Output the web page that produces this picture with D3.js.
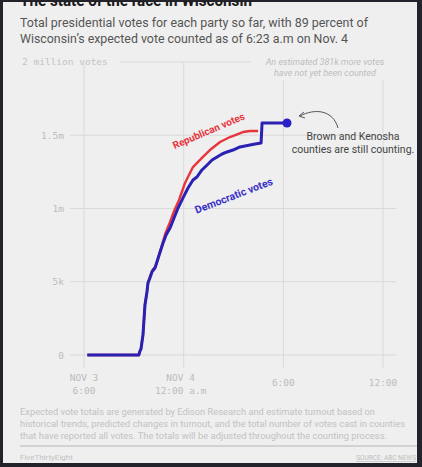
<!DOCTYPE html>
<html>
<head>
<meta charset="utf-8">
<script src="https://cdn.jsdelivr.net/npm/d3@7"></script>
<style>
html,body{margin:0;padding:0;background:#23232b;}
svg{display:block;}
</style>
</head>
<body>
<svg id="chart" width="422" height="467"></svg>
<script>
// ---- data (hours after Nov 3, 6:00 p.m.; votes in millions) ----
const demHours = [0.2, 3.3, 3.37, 3.43, 3.55, 3.61, 3.67, 3.79, 3.85, 3.97, 4.09, 4.27, 4.39, 4.58, 4.76, 4.94, 5.18, 5.42, 5.66, 5.96, 6.26, 6.56, 6.8, 7.1, 7.41, 7.71, 8.01, 8.31, 8.61, 8.97, 9.39, 9.69, 9.99, 10.3, 10.66, 10.72, 12.22];
const demVotes = [0, 0, 0.027, 0.041, 0.137, 0.239, 0.341, 0.43, 0.491, 0.526, 0.567, 0.594, 0.635, 0.703, 0.765, 0.819, 0.867, 0.935, 1.003, 1.072, 1.14, 1.195, 1.215, 1.263, 1.297, 1.331, 1.352, 1.372, 1.386, 1.399, 1.42, 1.427, 1.433, 1.44, 1.447, 1.584, 1.584];
const repHours = [0.2, 3.3, 3.37, 3.43, 3.55, 3.61, 3.67, 3.79, 3.85, 4.0, 4.15, 4.3, 4.58, 4.9, 5.15, 5.45, 5.72, 6.08, 6.56, 7.1, 7.58, 8.19, 8.79, 9.57, 9.99, 10.48];
const repVotes = [0, 0, 0.027, 0.041, 0.137, 0.239, 0.341, 0.43, 0.491, 0.545, 0.585, 0.6, 0.705, 0.83, 0.9, 0.99, 1.058, 1.174, 1.283, 1.345, 1.399, 1.454, 1.488, 1.522, 1.529, 1.529];

const yTicks = [0, 0.5, 1, 1.5];
const yTickLabels = ["0", "5k", "1m", "1.5m"];
const yTopTick = 2;
const yTopLabel = "2 million votes";

const xTickHours = [0, 6, 12, 18];
const xTickLine1 = ["NOV 3", "NOV 4", "", ""];
const xTickLine2 = ["6:00", "12:00 a.m", "", ""];
const xTickSingle = ["", "", "6:00", "12:00"];

const titleText = "The state of the race in Wisconsin";
const subtitleLines = [
  "Total presidential votes for each party so far, with 89 percent of",
  "Wisconsin\u2019s expected vote counted as of 6:23 a.m on Nov. 4"
];
const notYetCounted = ["An estimated 381k more votes", "have not yet been counted"];
const annotationLines = ["Brown and Kenosha", "counties are still counting."];
const footnoteLines = [
  "Expected vote totals are generated by Edison Research and estimate turnout based on",
  "historical trends, predicted changes in turnout, and the total number of votes cast in counties",
  "that have reported all votes. The totals will be adjusted throughout the counting process."
];
const brandText = "FiveThirtyEight";
const sourceText = "SOURCE: ABC NEWS";

// ---- setup ----
const svg = d3.select("#chart");
const t0 = new Date(2020, 10, 3, 18, 0, 0);
const toDate = h => new Date(t0.getTime() + h * 3600 * 1000);

const x = d3.scaleTime().domain([toDate(0), toDate(18)]).range([84, 383]);
const y = d3.scaleLinear().domain([0, 2]).range([355, 62]);

svg.append("rect").attr("width", 422).attr("height", 467).attr("fill", "#23232b");
svg.append("rect").attr("x", 3).attr("y", 2).attr("width", 414).attr("height", 461).attr("fill", "#efefef");

// title (cropped at top, as in the source photo)
svg.append("text").attr("x", 20).attr("y", 6)
  .attr("font-family", "Roboto, Arial, sans-serif").attr("font-weight", "bold")
  .attr("font-size", 17).attr("fill", "#1a1a1a")
  .attr("textLength", 232).attr("lengthAdjust", "spacingAndGlyphs")
  .text(titleText);
svg.append("rect").attr("x", 0).attr("y", 0).attr("width", 422).attr("height", 1.5).attr("fill", "#23232b");

// subtitle
const subW = [348, 328];
subtitleLines.forEach((s, i) => {
  svg.append("text").attr("x", 20).attr("y", 27 + i * 16)
    .attr("font-family", "Roboto, Arial, sans-serif").attr("font-size", 12.5)
    .attr("fill", "#555").attr("textLength", subW[i]).attr("lengthAdjust", "spacingAndGlyphs")
    .text(s);
});

// ---- gridlines ----
const grid = svg.append("g").attr("stroke", "#d9d9d9").attr("stroke-width", 1);
yTicks.forEach(v => {
  grid.append("line").attr("x1", 70).attr("x2", 396).attr("y1", y(v)).attr("y2", y(v));
});
grid.append("line").attr("x1", 120).attr("x2", 251).attr("y1", y(yTopTick)).attr("y2", y(yTopTick));
xTickHours.forEach((h, i) => {
  grid.append("line").attr("x1", x(toDate(h))).attr("x2", x(toDate(h)))
    .attr("y1", i < 2 ? y(yTopTick) + 1 : 80).attr("y2", 368);
});

// ---- y axis ----
const yAxis = d3.axisLeft(y).tickValues(yTicks).tickSize(0).tickPadding(0)
  .tickFormat((d, i) => yTickLabels[i]);
const yg = svg.append("g").attr("transform", "translate(64,0)").call(yAxis);
yg.select(".domain").remove();
yg.selectAll("text").attr("font-family", "'DejaVu Sans Mono', monospace")
  .attr("font-size", 9.5).attr("fill", "#bcbcbc");
svg.append("text").attr("x", 22).attr("y", y(yTopTick)).attr("dy", "0.32em")
  .attr("font-family", "'DejaVu Sans Mono', monospace").attr("font-size", 9.5)
  .attr("fill", "#c4c4c4").text(yTopLabel);

// ---- x axis ----
const xAxis = d3.axisBottom(x).tickValues(xTickHours.map(toDate)).tickSize(0).tickFormat("");
const xg = svg.append("g").attr("transform", "translate(0,370)").call(xAxis);
xg.select(".domain").remove();
const xlab = svg.append("g").attr("font-family", "'DejaVu Sans Mono', monospace")
  .attr("font-size", 9.5).attr("fill", "#bcbcbc").attr("text-anchor", "middle");
xTickHours.forEach((h, i) => {
  const xx = x(toDate(h)) - (i === 1 ? 3 : 0);
  if (xTickLine1[i]) xlab.append("text").attr("x", xx).attr("y", 381).text(xTickLine1[i]);
  if (xTickLine2[i]) xlab.append("text").attr("x", xx).attr("y", 394).text(xTickLine2[i]);
  if (xTickSingle[i]) xlab.append("text").attr("x", xx).attr("y", 386).text(xTickSingle[i]);
});

// ---- lines ----
const line = d3.line().x(d => x(toDate(d[0]))).y(d => y(d[1])).curve(d3.curveLinear);
const rep = repHours.map((h, i) => [h, repVotes[i]]);
const dem = demHours.map((h, i) => [h, demVotes[i]]);
svg.append("path").datum(rep).attr("d", line).attr("fill", "none")
  .attr("stroke", "#e8353d").attr("stroke-width", 2.4).attr("stroke-linejoin", "round");
svg.append("path").datum(dem).attr("d", line).attr("fill", "none")
  .attr("stroke", "#2a20b4").attr("stroke-width", 3).attr("stroke-linejoin", "round");
const last = dem[dem.length - 1];
svg.append("circle").attr("cx", x(toDate(last[0]))).attr("cy", y(last[1])).attr("r", 4.5).attr("fill", "#2a20c8");

// series labels
svg.append("text").attr("transform", "translate(210,134) rotate(-23)")
  .attr("text-anchor", "middle").attr("font-family", "Roboto, Arial, sans-serif")
  .attr("font-weight", "bold").attr("font-size", 10).attr("fill", "#e8353d")
  .text("Republican votes");
svg.append("text").attr("transform", "translate(235,199) rotate(-21)")
  .attr("text-anchor", "middle").attr("font-family", "Roboto, Arial, sans-serif")
  .attr("font-weight", "bold").attr("font-size", 10.5).attr("fill", "#3a2fc8")
  .text("Democratic votes");

// not-yet-counted note
notYetCounted.forEach((s, i) => {
  svg.append("text").attr("x", 325).attr("y", 65 + i * 10.5).attr("text-anchor", "middle")
    .attr("font-family", "Roboto, Arial, sans-serif").attr("font-style", "italic")
    .attr("font-size", 9).attr("fill", "#bdbdbd").text(s);
});

// annotation
annotationLines.forEach((s, i) => {
  svg.append("text").attr("x", 353).attr("y", 140 + i * 13).attr("text-anchor", "middle")
    .attr("font-family", "Roboto, Arial, sans-serif").attr("font-size", 10.5)
    .attr("fill", "#444").text(s);
});
svg.append("path").attr("d", "M300,116 C315,108 333,110 338,128")
  .attr("fill", "none").attr("stroke", "#555").attr("stroke-width", 1);
svg.append("path").attr("d", "M304,112 L299,116 L305,118").attr("fill", "none")
  .attr("stroke", "#555").attr("stroke-width", 1);

// footnote
const fnW = [355, 385, 367];
footnoteLines.forEach((s, i) => {
  svg.append("text").attr("x", 20).attr("y", 415 + i * 12)
    .attr("font-family", "Roboto, Arial, sans-serif").attr("font-size", 8.5)
    .attr("fill", "#c2c2c2").attr("textLength", fnW[i]).attr("lengthAdjust", "spacingAndGlyphs")
    .text(s);
});
svg.append("line").attr("x1", 20).attr("x2", 417).attr("y1", 446).attr("y2", 446)
  .attr("stroke", "#b5b5b5").attr("stroke-width", 1.2);
svg.append("text").attr("x", 20).attr("y", 460)
  .attr("font-family", "Roboto, Arial, sans-serif").attr("font-size", 8)
  .attr("fill", "#c2c2c2").text(brandText);
svg.append("text").attr("x", 416).attr("y", 460).attr("text-anchor", "end")
  .attr("font-family", "Roboto, Arial, sans-serif").attr("font-size", 6.5)
  .attr("fill", "#bdbdbd").attr("text-decoration", "underline").text(sourceText);
</script>
</body>
</html>
